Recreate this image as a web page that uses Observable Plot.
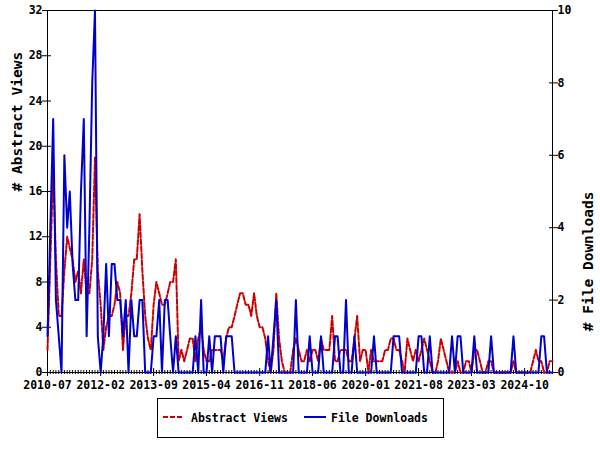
<!DOCTYPE html>
<html><head><meta charset="utf-8">
<script src="https://cdn.jsdelivr.net/npm/d3@7"></script>
<script src="https://cdn.jsdelivr.net/npm/@observablehq/plot@0.6"></script>
<style>
body{margin:0;background:#fff;}
#wrap{position:relative;width:600px;height:450px;font-family:"DejaVu Sans Mono",monospace;font-weight:bold;}
#chart svg{display:block;}
#legend{position:absolute;left:157px;top:398px;width:287px;height:40px;border:1px solid #000;box-sizing:border-box;background:#fff;}
#legend svg{display:block;}
</style></head><body>
<div id="wrap"><div id="chart"></div>
<div id="legend"><svg width="285" height="38" style="font-family:'DejaVu Sans Mono',monospace;font-weight:bold;font-size:11.5px">
<line x1="5" x2="26" y1="18" y2="18" stroke="#cc0000" stroke-width="2" stroke-dasharray="5,2"/>
<text x="33" y="22.5" fill="#000">Abstract Views</text>
<line x1="146" x2="168" y1="18" y2="18" stroke="#0000cc" stroke-width="2"/>
<text x="173" y="22.5" fill="#000">File Downloads</text>
</svg></div></div>
<script>
const startMonth = "2010-07";
const views = [
2,10,18,10,5,5,9,12,11,10,
8,9,7,10,7,7,10,19,9,6,
2,4,5,5,6,8,7,2,5,5,
7,10,10,14,9,5,3,2,6,8,
7,6,6,7,8,8,10,1,2,1,
2,3,3,1,3,4,2,1,1,2,
2,2,2,1,3,4,4,5,6,7,
7,6,6,5,7,5,4,4,3,1,
0,2,7,3,1,0,0,0,2,3,
2,1,1,2,1,2,2,1,3,2,
2,2,5,1,1,2,2,2,1,1,
3,5,1,2,2,0,2,1,1,1,
1,2,2,3,3,2,2,1,0,3,
2,1,2,1,2,3,2,1,0,0,
1,3,2,1,0,0,0,1,0,0,
1,1,0,2,2,1,0,0,1,1,
0,0,0,0,0,0,0,1,0,0,
0,0,0,0,1,2,1,1,0,0,
1,1];
const downloads = [
1,4,7,2,1,0,6,4,5,3,
2,2,5,7,1,4,8,10,1,0,
1,3,1,3,3,2,2,1,2,0,
2,1,1,2,2,0,0,0,1,1,
2,0,2,2,1,0,1,0,0,0,
0,0,0,1,0,2,0,0,1,0,
1,1,1,0,1,1,1,0,0,0,
0,0,0,0,0,0,0,0,0,1,
0,1,2,0,0,0,0,0,0,2,
0,0,0,0,1,0,0,0,1,0,
0,0,0,1,1,0,0,2,0,0,
1,0,0,0,0,0,0,1,0,0,
0,0,0,0,1,1,1,0,0,0,
0,0,0,1,1,0,0,1,0,0,
0,0,0,0,0,1,0,1,1,0,
0,0,0,1,0,0,0,0,0,1,
0,0,0,0,0,0,0,1,0,0,
0,0,0,0,0,0,0,1,1,0,
0,0];
const tickLabels = ["2010-07","2012-02","2013-09","2015-04","2016-11","2018-06","2020-01","2021-08","2023-03","2024-10"];
const leftTicks = [0,4,8,12,16,20,24,28,32];
const rightTicks = [0,2,4,6,8,10];
const leftMax = 32, rightMax = 10;
const ratio = leftMax / rightMax;

const parse = d3.utcParse("%Y-%m");
const t0 = parse(startMonth);
const rows = views.map((v, i) => ({date: d3.utcMonth.offset(t0, i), views: v, downloads: downloads[i]}));
const xDomain = [rows[0].date, rows[rows.length - 1].date];
const majors = tickLabels.map(parse);
const minors = d3.utcMonth.range(xDomain[0], d3.utcMonth.offset(xDomain[1], 1));
const rightPos = rightTicks.map(d => d * ratio);

const chart = Plot.plot({
  width: 600, height: 392,
  marginLeft: 47, marginRight: 48, marginTop: 10, marginBottom: 20,
  style: {fontFamily: "DejaVu Sans Mono", fontSize: "11.5px", fontWeight: "bold", color: "#000", background: "#fff", overflow: "visible"},
  x: {type: "utc", domain: xDomain},
  y: {domain: [0, leftMax]},
  marks: [
    Plot.frame({stroke: "#000"}),
    Plot.axisX({ticks: minors, tickSize: 4, dy: -2, tickFormat: () => "", label: null}),
    Plot.axisX({ticks: majors, tickSize: 8, dy: -4, tickFormat: () => "", label: null}),
    Plot.axisX({ticks: majors, tickSize: 0, tickPadding: 8, tickFormat: d3.utcFormat("%Y-%m"), label: null}),
    Plot.axisY({ticks: leftTicks, tickSize: 9, dx: 4, tickFormat: () => "", label: null}),
    Plot.axisY({ticks: leftTicks, tickSize: 0, tickPadding: 5, label: null}),
    Plot.axisY({anchor: "right", ticks: rightPos, tickSize: 9, dx: -4, tickFormat: () => "", label: null}),
    Plot.axisY({anchor: "right", ticks: rightPos, tickSize: 0, tickPadding: 5, tickFormat: d => Math.round(d / ratio), label: null}),
    Plot.line(rows, {x: "date", y: "views", stroke: "#cc0000", strokeWidth: 2, strokeDasharray: "5,2"}),
    Plot.line(rows, {x: "date", y: d => d.downloads * ratio, stroke: "#0000cc", strokeWidth: 2}),
    Plot.text(["# Abstract Views"], {frameAnchor: "left", dx: -30, rotate: -90, fontSize: 14.5}),
    Plot.text(["# File Downloads"], {frameAnchor: "right", dx: 36, rotate: -90, fontSize: 14.5})
  ]
});
document.getElementById("chart").appendChild(chart);
</script>
</body></html>
